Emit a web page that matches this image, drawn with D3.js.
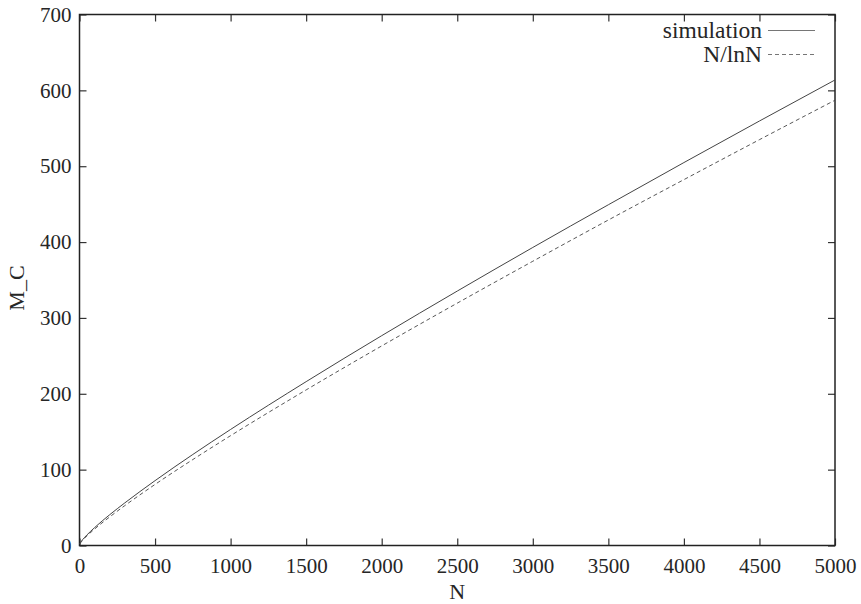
<!DOCTYPE html>
<html>
<head>
<meta charset="UTF-8">
<script src="https://d3js.org/d3.v7.min.js"></script>
<style>
  body { margin: 0; background: #fff; }
</style>
</head>
<body>
<svg id="chart" width="861" height="604"></svg>
<script>
// values
const simN   = [2, 5, 10, 20, 50, 100, 200, 300, 500, 750, 1000, 1500, 2000, 2500, 3000, 3500, 4000, 4500, 5000];
const simMC  = [2, 3.5, 5.2, 7.6, 14.1, 23.6, 40.6, 56.2, 85.5, 120, 153, 216, 276.6, 335.4, 392.9, 449.2, 504.8, 559.6, 613.7];
const fitN   = [2, 5, 10, 20, 50, 100, 200, 300, 500, 750, 1000, 1500, 2000, 2500, 3000, 3500, 4000, 4500, 5000];
const fitMC  = [2.9, 3.1, 4.3, 6.7, 12.8, 21.7, 37.7, 52.6, 80.5, 113.3, 144.8, 205.1, 263.1, 319.5, 374.7, 429.1, 482.3, 535.0, 587.0];
const xTicks = [0, 500, 1000, 1500, 2000, 2500, 3000, 3500, 4000, 4500, 5000];
const yTicks = [0, 100, 200, 300, 400, 500, 600, 700];
const legendLabels = ["simulation", "N/lnN"];

const svg = d3.select("#chart");
const m = { left: 79.5, right: 835, top: 14.5, bottom: 545.5 };
const serif = "Liberation Serif";

const x = d3.scaleLinear().domain([0, 5000]).range([m.left, m.right]);
const y = d3.scaleLinear().domain([0, 700]).range([m.bottom, m.top]);

const tickLen = 7;
const fmt = d3.format("d");

// axes (ticks inward, mirrored)
svg.append("g").attr("transform", `translate(0,${m.bottom})`)
  .call(d3.axisBottom(x).tickValues(xTicks).tickFormat(fmt).tickSizeInner(-tickLen).tickSizeOuter(0).tickPadding(13))
  .call(g => g.select(".domain").remove());
svg.append("g").attr("transform", `translate(0,${m.top})`)
  .call(d3.axisTop(x).tickValues(xTicks).tickSizeInner(-tickLen).tickSizeOuter(0).tickFormat(""))
  .call(g => g.select(".domain").remove());
svg.append("g").attr("transform", `translate(${m.left},0)`)
  .call(d3.axisLeft(y).tickValues(yTicks).tickFormat(fmt).tickSizeInner(-tickLen).tickSizeOuter(0).tickPadding(8))
  .call(g => g.select(".domain").remove());
svg.append("g").attr("transform", `translate(${m.right},0)`)
  .call(d3.axisRight(y).tickValues(yTicks).tickSizeInner(-tickLen).tickSizeOuter(0).tickFormat(""))
  .call(g => g.select(".domain").remove());

svg.selectAll("g").attr("font-family", null).attr("font-size", null);
svg.selectAll(".tick line").attr("stroke", "#333").attr("stroke-width", 1.2);
svg.selectAll(".tick text")
  .style("font-family", serif).style("font-size", "21px").attr("fill", "#262626");

// frame
svg.append("rect")
  .attr("x", m.left).attr("y", m.top)
  .attr("width", m.right - m.left).attr("height", m.bottom - m.top)
  .attr("fill", "none").attr("stroke", "#222").attr("stroke-width", 1.5);

// curves
const line = d3.line().x(d => x(d[0])).y(d => y(d[1])).curve(d3.curveMonotoneX);

svg.append("path")
  .datum(simN.map((n, i) => [n, simMC[i]]))
  .attr("d", line)
  .attr("fill", "none").attr("stroke", "#444").attr("stroke-width", 1);

svg.append("path")
  .datum(fitN.map((n, i) => [n, fitMC[i]]))
  .attr("d", line)
  .attr("fill", "none").attr("stroke", "#444").attr("stroke-width", 0.9)
  .attr("stroke-dasharray", "4,3");

// legend
const legY = [30.5, 54.5];
legendLabels.forEach((lab, i) => {
  svg.append("text")
    .attr("x", 762).attr("y", legY[i])
    .attr("dy", "0.33em")
    .attr("text-anchor", "end")
    .style("font-family", serif).style("font-size", "23.5px")
    .attr("fill", "#262626")
    .text(lab);
  svg.append("line")
    .attr("x1", 768).attr("x2", 815)
    .attr("y1", legY[i]).attr("y2", legY[i])
    .attr("stroke", "#666").attr("stroke-width", 0.9)
    .attr("stroke-dasharray", i === 1 ? "4,3" : null);
});

// axis titles
svg.append("text")
  .attr("x", (m.left + m.right) / 2).attr("y", 591)
  .attr("dy", "0.35em")
  .attr("text-anchor", "middle")
  .style("font-family", serif).style("font-size", "22px")
  .attr("fill", "#262626")
  .text("N");

svg.append("text")
  .attr("transform", "translate(16,288) rotate(-90)")
  .attr("dy", "0.35em")
  .attr("text-anchor", "middle")
  .style("font-family", serif).style("font-size", "22px")
  .attr("fill", "#262626")
  .text("M_C");
</script>
</body>
</html>
